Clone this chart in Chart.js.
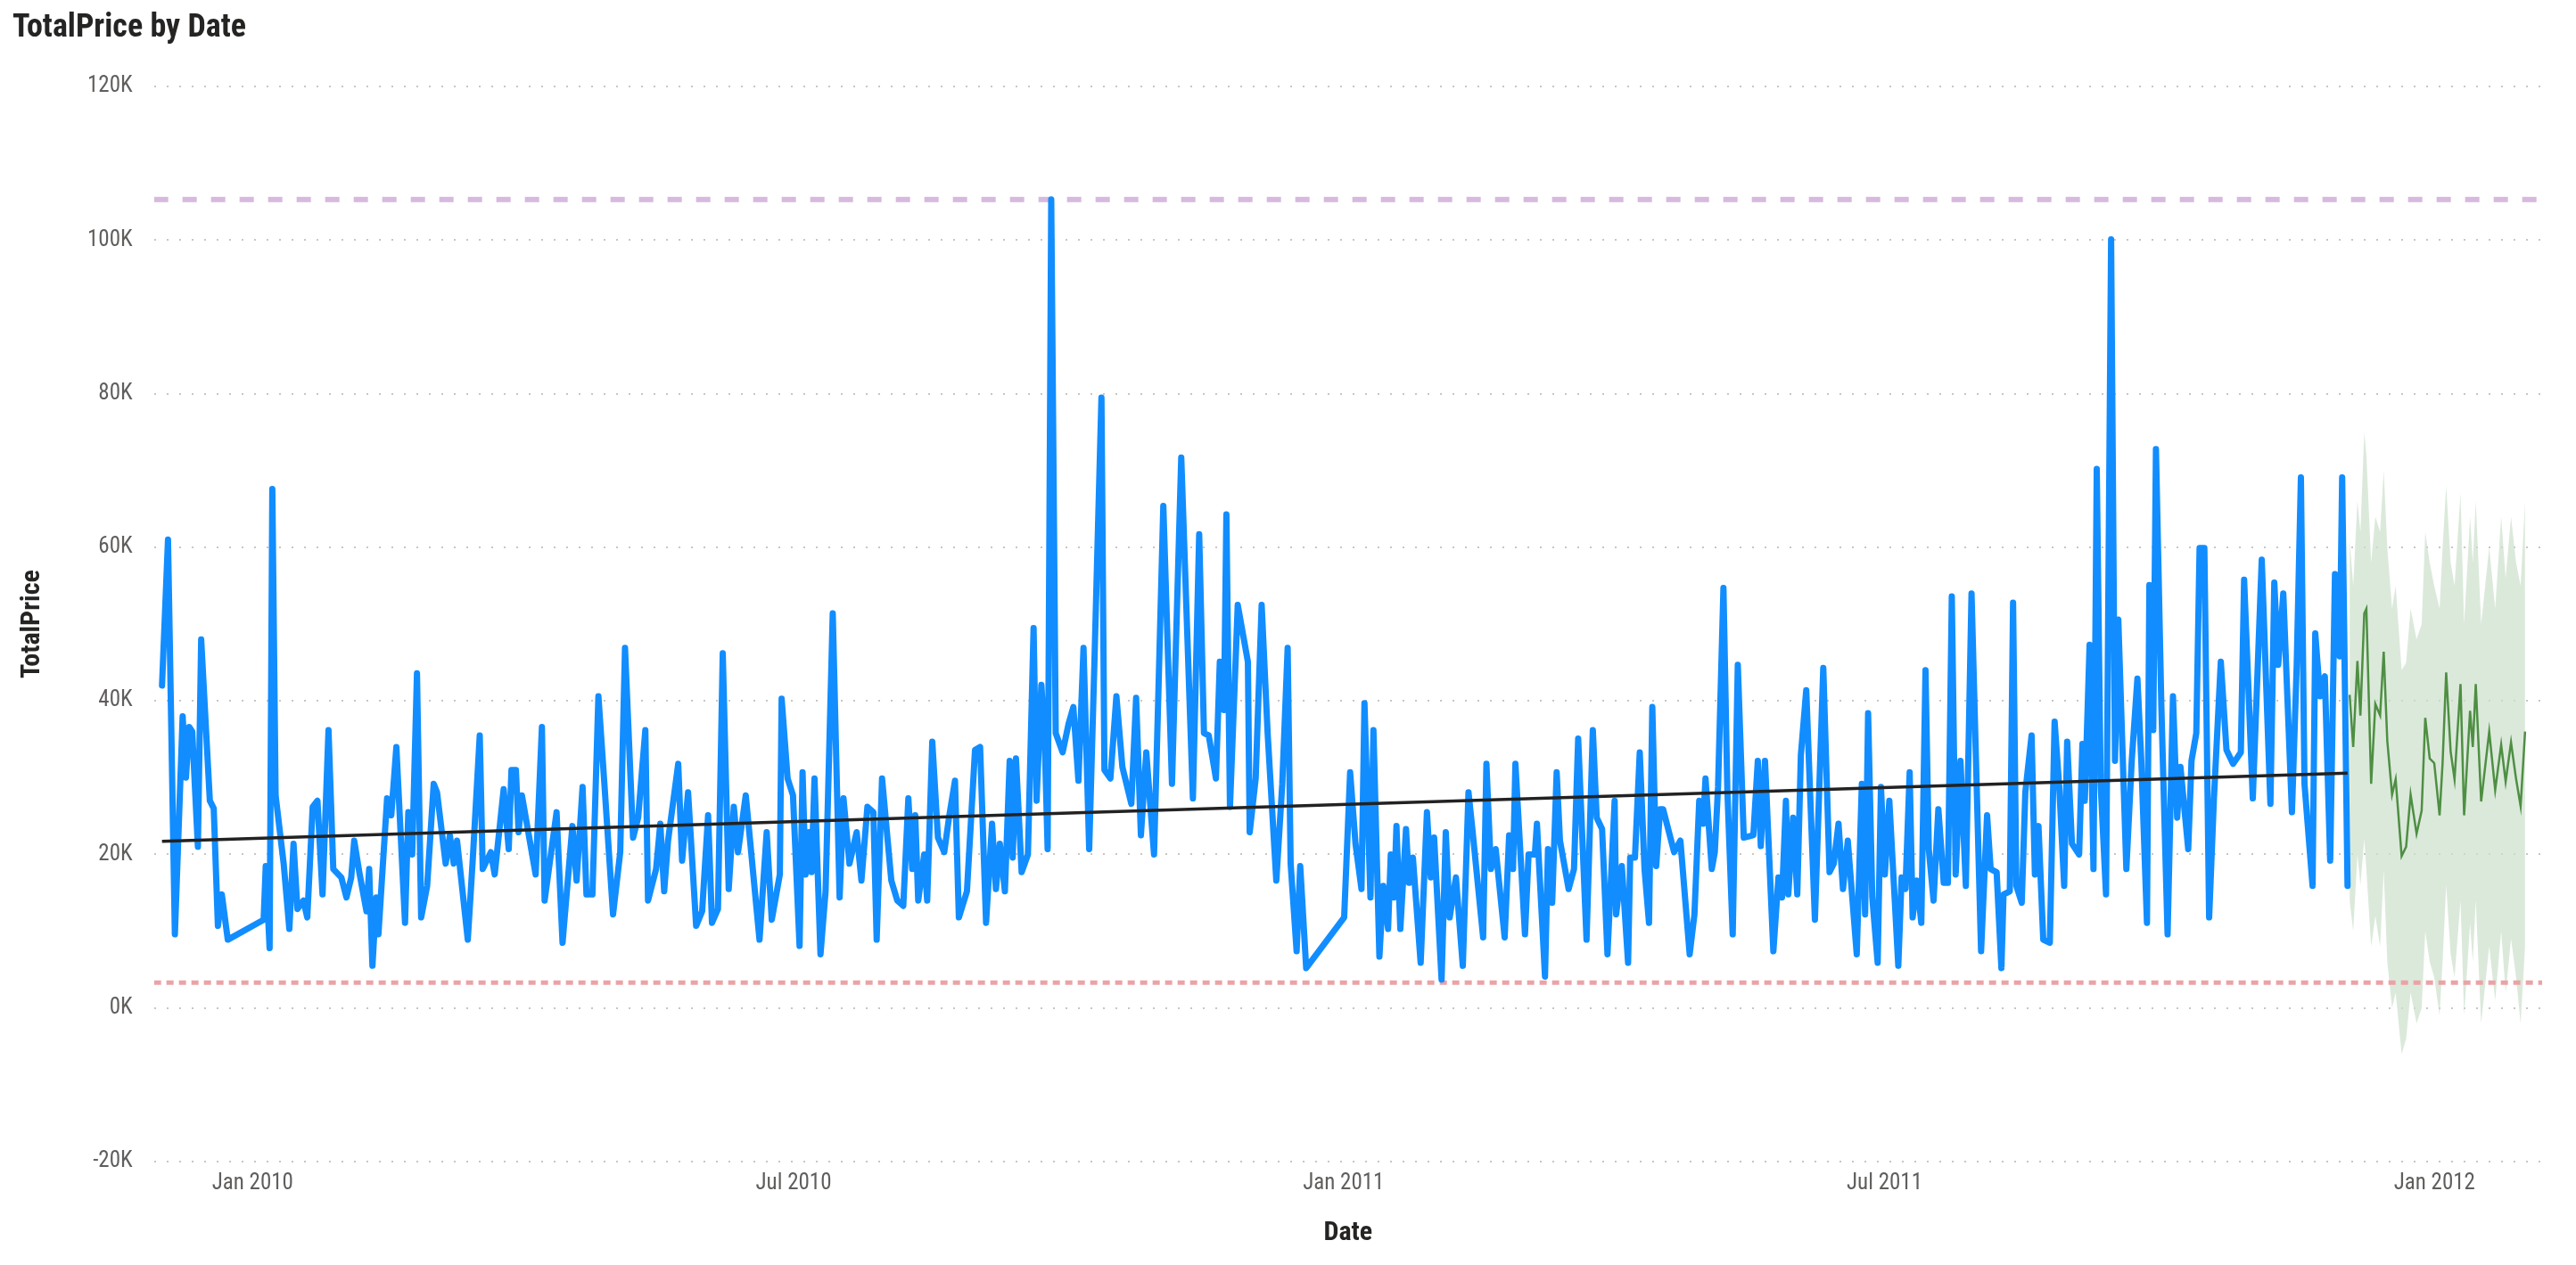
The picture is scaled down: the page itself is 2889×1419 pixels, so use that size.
<!DOCTYPE html>
<html><head><meta charset="utf-8">
<script src="https://cdn.jsdelivr.net/npm/chart.js@4"></script>
<style>html,body{margin:0;padding:0;background:#fff}#wrap{width:2889px;height:1419px;position:relative}</style>
</head><body><div id="wrap"><canvas id="c"></canvas></div>
<script>
// Days counted from 1 Dec 2009; values in thousands
const actualDays = [0.7,2.7,5,7.6,8.7,9.8,10.8,12.7,13.8,16.7,18,19.4,20.7,22.7,34.7,35.4,36.7,37.6,38.7,41.4,43.3,44.7,46,48,49.3,51.1,52.7,54.4,56.4,58,60.7,62.4,64,65,66.7,69.1,70,71.1,72.4,73.1,76,77.4,79.1,82,83.1,84.4,86,87.4,89.4,91.6,92.7,95.6,97,98.3,99.4,103,104.7,107,108,110.7,112,115,116.7,117.6,119.1,120,121.1,125.7,127.8,128.7,132.7,134.7,138,139.4,141.4,142.7,144.7,146.7,148.7,151.6,154,155.6,158.3,160,162.4,163.3,166,167.4,168.7,170,173.4,174.7,176.7,179.4,181.4,183.4,184.7,186.7,188.3,190.3,192,193.4,196,200.6,203,
204.7,207.4,208,210,211.8,214,215,216,217.1,218,219,221,222.7,225.1,227.4,228.7,230.7,233.1,234.7,236.7,238.7,239.8,241.6,244.7,246.7,248.7,250.4,251.7,252.7,253.7,255.7,256.7,258.4,260.3,262.4,264,266,267.3,270,
272.7,274.4,276.4,278.4,279.7,281,282.7,284.3,285.3,286.4,288.3,290.4,292.3,293.3,294.9,296,297,298.2,299.7,302,304,305.6,307.3,309,310.9,312.6,315,316,318,320,322,325,326.6,328.2,330,332.6,334,335.7,338.6,341.7,345.6,347.7,349.3,350.9,353.3,354.6,356,356.8,358,360.6,364,364.6,366.6,368.6,370.6,373.5,375.5,377.3,378.3,380.3,381.5,383.5,396.2,398.2,400,402,403,405,406,408,409.3,410.9,
411.8,412.9,413.7,415,416.9,417.9,419.2,421.8,423.9,425.2,426.3,428.8,430.2,431.5,433.6,435.9,437.8,439.1,442.7,443.8,445.3,446.9,449.9,451.4,452.7,453.5,456.7,457.9,460,460.7,463.4,464.4,465.8,467.3,468.4,471.3,473.1,474.5,477.3,479.4,480.7,482.5,484.3,486.7,487.2,489.1,491.2,491.9,493.5,495.1,496.7,498.2,499.3,500.6,501.9,502.9,506.6,508.7,511.8,513.4,515,516.3,517.1,519.2,520.2,521.3,523.1,524.4,526.2,527.9,529.9,533.1,534.6,535.6,537,539.8,541.5,542.7,544,544.8,546.4,547.8,549,550.8,553.7,556.5,558.6,560,561.6,563.1,564.7,567.7,569.4,570.5,571.5,
572.9,574.7,575.8,577.1,578.6,580,581.6,582.7,584,585.4,586.4,587.8,589.3,590.7,591.8,593.4,595,596.8,598.2,599.5,600.8,602.4,604.2,606.1,609.3,611.3,612.5,614.5,616.1,616.8,618.9,620,621.1,622.9,624.1,626.2,627.3,628.5,630.1,632.3,633.9,635.5,637.1,638.1,639.7,642.1,643.2,644,645.6,646.9,648,649.3,651.1,652.8,654.1,655.2,657.9,659.7,661.6,662.9,664.8,665.6,666.9,667.8,669.6,671.7,673.5,674.9,676,678.6,679.7,681.3,682.4,684,685.6,687.2,689.5,691.4,693.6,696.2,697.3,700.2,703.2,706.1,707.4,708.7,710.4,713.3,714.9,716.3,717.5,720.2,721.1,722.7,724.3,726.1,727.7,729.3,730.1,731.9];
const actualValues = [42,61,9.6,38,30,36.6,36,21,48,27,26,10.7,14.8,8.9,11.5,18.5,7.8,67.6,27.7,18.8,10.3,21.4,12.9,14,11.8,26.2,27,14.8,36.2,18.1,17,14.4,17,21.8,17.7,12.6,18.1,5.5,14.4,9.6,27.3,25.1,34,11.1,25.5,20,43.6,11.8,15.9,29.2,28.1,18.8,22.5,18.8,21.8,8.9,19.6,35.5,18.1,20.3,17.4,28.5,20.7,31,31,22.9,27.7,17.4,36.6,14,25.5,8.5,23.7,16.6,28.8,14.8,14.8,40.6,29.2,12.2,20.3,46.9,22.2,24.8,36.2,14,18.1,24,15.2,21.8,31.8,19.2,28.1,10.7,12.6,25.1,11.1,12.9,46.2,15.5,26.2,20.3,27.7,8.9,22.9,
11.5,17.4,40.3,29.9,27.7,8.1,30.7,17.4,22.9,17.7,29.9,7,15.2,51.4,14.4,27.3,18.8,22.9,16.6,26.2,25.5,8.9,29.9,16.6,14,13.3,27.3,18.1,25.1,14,20,14,34.7,22.2,20.3,24.8,29.6,11.8,15.2,
33.6,34,11.1,24,15.5,21.4,15.2,32.2,19.6,32.5,17.7,20,49.5,27,42.1,35.1,20.7,105.3,35.8,33.3,37,39.2,29.6,46.9,20.7,44.3,79.5,31,29.9,40.6,31.4,26.6,40.4,22.5,33.3,20,40.3,65.4,29.2,71.7,27.3,61.7,35.8,35.5,29.9,45.1,38.8,64.3,26.2,52.5,45.1,22.9,29.9,52.5,35.8,16.6,29.2,46.9,18.8,7.4,18.5,5.2,11.8,30.7,21.4,15.5,39.7,14.4,36.2,6.7,15.9,10.3,
20,14.4,23.7,10.3,23.3,16.3,19.6,5.9,25.5,17,22.2,3.7,22.9,11.8,17,5.5,28.1,23.3,9.2,31.8,18.1,20.7,9.2,22.5,18.1,31.8,9.6,20,20,24,4.1,20.7,13.7,30.7,21.8,15.5,18.1,35.1,8.9,36.2,24.8,23.3,7,27,12.2,18.5,5.9,19.6,19.6,33.3,18.1,11.1,39.2,18.5,25.9,25.9,20.3,21.8,7,12.2,27,24,29.9,18.1,20.3,28.8,54.7,28.5,9.6,44.7,22.2,22.5,32.2,21.1,32.2,7.4,17,14.4,27,14.8,24.8,14.8,32.9,41.4,11.5,44.3,17.7,18.8,24,15.5,21.8,7,29.2,12.2,38.4,
14.4,5.9,28.8,17.4,27,17,5.5,17,15.5,30.7,11.8,16.6,11.1,44,20.7,14,25.9,16.3,16.3,53.6,17.4,32.2,15.9,54,7.4,25.1,18.1,17.7,5.2,14.8,15.2,52.8,15.9,13.7,28.1,35.5,17.4,23.7,8.9,8.5,37.3,28.5,15.9,34.7,21.4,20,34.4,27,47.3,18.1,70.2,29.2,14.8,100.1,32.2,50.6,18.1,32.2,42.9,32.2,11.1,55.1,36.2,72.8,39.5,9.6,40.6,24.8,31.4,20.7,32.2,35.8,59.9,59.9,11.8,27.3,45.1,33.6,31.8,33.3,55.8,27.3,58.4,26.6,55.4,44.7,54,25.5,44.7,69.1,29.2,15.9,48.8,40.6,43.2,19.2,56.5,45.8,69.1,15.9];
const forecastDays = [732.6,733.8,735.2,736.2,737.5,738.2,739.8,741.2,742.8,744,745.2,746.8,748,750,751.5,753,755,756.7,757.9,759.4,760.9,762.7,763.7,764.9,766.4,767.7,769.7,770.9,772.9,773.8,774.8,776.6,779.3,781.3,783.3,784.8,786.6,788.3,789.8,791.3];
const forecastValues = [40.8,34,45.2,38.1,51.4,52,29.2,39.6,38.1,46.4,34.8,27.8,29.8,19.8,21,27.8,22.7,25.7,37.8,32.5,31.9,25.1,31.9,43.7,33.4,29.8,42.2,25.1,38.7,34,42.2,26.9,36,28.4,34.3,29.5,34.6,29.8,26.3,36];
const forecastUpper = [61,55,66,62,75,72,58,64,62,70,60,52,55,44,45,52,48,50,62,58,55,52,60,68,58,55,67,50,64,58,66,50,60,52,64,56,64,58,55,66];
const forecastLower = [14,10,20,16,22,18,8,12,8,18,6,0,2,-6,-4,2,-2,0,10,6,4,-1,6,16,7,4,14,-1,11,6,14,-2,8,1,10,2,9,4,-2,8];
const trendDays = [0.7,731.9];
const trendValues = [21.7,30.6];
const maxLineValue = 105.3;
const minLineValue = 3.3;
const tickDays = [31,212,396,577,761];
const tickLabels = ['Jan 2010','Jul 2010','Jan 2011','Jul 2011','Jan 2012'];
const xMin = -2, xMax = 797;

const pts = (xs, ys) => xs.map((x,i)=>({x, y: ys[i]}));
const FONT = "'Liberation Sans Narrow','Roboto Condensed','Open Sans',sans-serif";

new Chart(document.getElementById('c'), {
  type: 'line',
  data: { datasets: [
    { data: pts(forecastDays, forecastUpper), borderWidth:0, pointRadius:0, fill:'+1', backgroundColor:'rgba(204,224,204,0.7)', order:5 },
    { data: pts(forecastDays, forecastLower), borderWidth:0, pointRadius:0, fill:false, order:5 },
    { data: pts(actualDays, actualValues), borderColor:'#118DFF', borderWidth:7, pointRadius:0, order:3, borderJoinStyle:'round', borderCapStyle:'round' },
    { data: pts(forecastDays, forecastValues), borderColor:'#4E8F43', borderWidth:2.5, pointRadius:0, order:2 },
    { data: pts(trendDays, trendValues), borderColor:'#222', borderWidth:3.5, pointRadius:0, order:1 },
    { data: pts([xMin,xMax],[maxLineValue,maxLineValue]), borderColor:'#D7B9DE', borderWidth:6, borderDash:[16,16], pointRadius:0, order:4 },
    { data: pts([xMin,xMax],[minLineValue,minLineValue]), borderColor:'#EBA3A6', borderWidth:5, borderDash:[8,6], pointRadius:0, order:4 }
  ]},
  options: {
    responsive:true, maintainAspectRatio:false, animation:false, devicePixelRatio:1,
    layout:{ padding:{ left:14, right:38, top:0, bottom:14 } },
    plugins:{
      legend:{display:false}, tooltip:{enabled:false},
      title:{ display:true, text:'TotalPrice by Date', align:'start', color:'#252423',
        font:{family:FONT, size:36, weight:'bold'}, padding:{top:10,bottom:44} }
    },
    scales:{
      x:{ type:'linear', min:xMin, max:xMax,
        afterBuildTicks: s => { s.ticks = tickDays.map(v=>({value:v})); },
        ticks:{ color:'#605E5C', font:{family:FONT,size:25}, maxRotation:0, autoSkip:false, padding:10,
          callback:(v)=>{ const i = tickDays.indexOf(v); return i>=0 ? tickLabels[i] : ''; } },
        grid:{ display:false, drawTicks:false }, border:{display:false},
        title:{ display:true, text:'Date', color:'#252423', font:{family:FONT,size:30,weight:'bold'}, padding:{top:12} }
      },
      y:{ min:-20, max:120,
        ticks:{ stepSize:20, color:'#605E5C', font:{family:FONT,size:25}, padding:24, callback:v=>v+'K' },
        grid:{ color:'#C8C6C4', lineWidth:2, drawTicks:false, tickBorderDash:[2,10] },
        border:{ display:false, dash:[2,12] },
        title:{ display:true, text:'TotalPrice', color:'#252423', font:{family:FONT,size:30,weight:'bold'}, padding:{bottom:20} }
      }
    }
  }
});
</script></body></html>
